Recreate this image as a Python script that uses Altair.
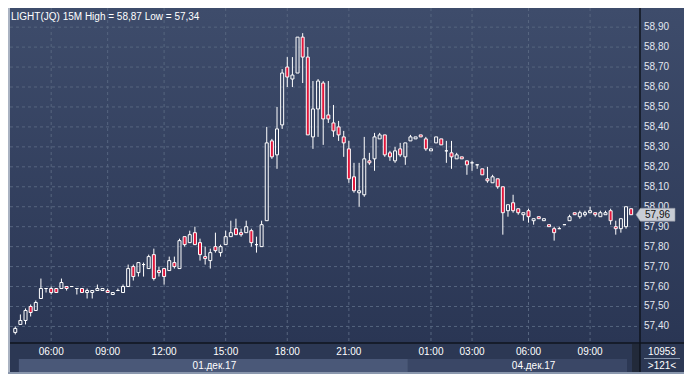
import altair as alt
import pandas as pd

# ---------------- data ----------------
opens = [
    57.37, 57.41, 57.43, 57.50, 57.48, 57.54, 57.59, 57.59, 57.59, 57.59,
    57.60, 57.60, 57.59, 57.59, 57.57, 57.57, 57.58, 57.58, 57.58, 57.56,
    57.58, 57.57, 57.60, 57.70, 57.67, 57.71, 57.69, 57.76, 57.68, 57.69,
    57.68, 57.72, 57.69, 57.85, 57.82, 57.87, 57.82, 57.75, 57.73, 57.80,
    57.77, 57.81, 57.85, 57.89, 57.87, 57.87, 57.88, 57.81, 57.80, 57.93,
    58.33, 58.26, 58.41, 58.70, 58.64, 58.67, 58.85, 58.75, 58.35, 58.49,
    58.62, 58.46, 58.42, 58.40, 58.35, 58.29, 58.15, 58.07, 58.06, 58.23,
    58.24, 58.34, 58.36, 58.27, 58.23, 58.29, 58.25, 58.33, 58.34, 58.36,
    58.34, 58.28, 58.32, 58.34, 58.28, 58.27, 58.24, 58.25, 58.23, 58.22,
    58.21, 58.19, 58.14, 58.12, 58.14, 58.10, 57.98, 58.02, 57.99, 57.96,
    57.98, 57.93, 57.95, 57.93, 57.91, 57.89, 57.89, 57.91, 57.93, 57.97,
    57.95, 57.96, 57.97, 57.97, 57.95, 57.96, 57.98, 57.90, 57.89, 57.90,
    57.99,
]
highs = [
    57.40, 57.46, 57.49, 57.51, 57.53, 57.64, 57.59, 57.60, 57.59, 57.64,
    57.60, 57.60, 57.59, 57.59, 57.59, 57.58, 57.61, 57.59, 57.59, 57.57,
    57.59, 57.61, 57.71, 57.71, 57.72, 57.72, 57.76, 57.79, 57.70, 57.69,
    57.75, 57.75, 57.84, 57.85, 57.88, 57.90, 57.84, 57.80, 57.79, 57.87,
    57.81, 57.88, 57.93, 57.94, 57.89, 57.93, 57.89, 57.85, 57.93, 58.40,
    58.34, 58.50, 58.69, 58.75, 58.75, 58.85, 58.87, 58.80, 58.63, 58.64,
    58.63, 58.63, 58.51, 58.43, 58.38, 58.33, 58.22, 58.22, 58.35, 58.27,
    58.37, 58.37, 58.36, 58.28, 58.30, 58.32, 58.32, 58.36, 58.35, 58.36,
    58.35, 58.29, 58.35, 58.34, 58.33, 58.33, 58.27, 58.25, 58.23, 58.23,
    58.21, 58.19, 58.20, 58.16, 58.14, 58.10, 58.01, 58.06, 57.99, 57.97,
    57.99, 57.94, 57.95, 57.94, 57.91, 57.90, 57.90, 57.91, 57.96, 57.97,
    57.98, 57.98, 58.00, 57.97, 57.98, 57.98, 57.99, 57.93, 57.94, 58.00,
    57.99,
]
lows = [
    57.36, 57.41, 57.41, 57.45, 57.48, 57.54, 57.57, 57.56, 57.57, 57.59,
    57.58, 57.60, 57.56, 57.57, 57.54, 57.54, 57.58, 57.58, 57.57, 57.56,
    57.58, 57.57, 57.60, 57.63, 57.65, 57.65, 57.69, 57.63, 57.65, 57.61,
    57.68, 57.69, 57.69, 57.80, 57.82, 57.81, 57.73, 57.71, 57.69, 57.77,
    57.75, 57.81, 57.85, 57.86, 57.85, 57.87, 57.80, 57.77, 57.80, 57.93,
    58.24, 58.19, 58.39, 58.60, 58.60, 58.67, 58.62, 58.36, 58.29, 58.35,
    58.31, 58.42, 58.35, 58.33, 58.25, 58.12, 58.07, 58.00, 58.05, 58.21,
    58.18, 58.34, 58.25, 58.23, 58.22, 58.25, 58.21, 58.33, 58.34, 58.35,
    58.28, 58.28, 58.32, 58.31, 58.22, 58.19, 58.24, 58.24, 58.16, 58.18,
    58.19, 58.16, 58.12, 58.12, 58.09, 57.86, 57.95, 57.97, 57.96, 57.93,
    57.92, 57.91, 57.94, 57.93, 57.90, 57.83, 57.89, 57.91, 57.93, 57.96,
    57.94, 57.95, 57.97, 57.95, 57.95, 57.96, 57.91, 57.86, 57.87, 57.89,
    57.96,
]
closes = [
    57.39, 57.43, 57.48, 57.47, 57.52, 57.59, 57.59, 57.57, 57.57, 57.62,
    57.59, 57.60, 57.59, 57.57, 57.58, 57.58, 57.59, 57.59, 57.57, 57.57,
    57.58, 57.60, 57.69, 57.65, 57.72, 57.71, 57.75, 57.64, 57.67, 57.65,
    57.73, 57.70, 57.83, 57.81, 57.86, 57.81, 57.76, 57.74, 57.77, 57.78,
    57.80, 57.85, 57.87, 57.86, 57.86, 57.90, 57.82, 57.81, 57.91, 58.32,
    58.25, 58.39, 58.67, 58.65, 58.66, 58.85, 58.75, 58.36, 58.49, 58.63,
    58.44, 58.44, 58.38, 58.36, 58.32, 58.14, 58.08, 58.08, 58.24, 58.22,
    58.35, 58.36, 58.26, 58.25, 58.28, 58.26, 58.32, 58.35, 58.35, 58.35,
    58.29, 58.29, 58.35, 58.31, 58.28, 58.25, 58.26, 58.24, 58.21, 58.22,
    58.21, 58.16, 58.13, 58.15, 58.10, 57.97, 58.01, 57.98, 57.97, 57.97,
    57.95, 57.94, 57.94, 57.94, 57.90, 57.87, 57.89, 57.91, 57.95, 57.96,
    57.97, 57.97, 57.98, 57.96, 57.97, 57.97, 57.93, 57.89, 57.94, 58.00,
    57.96,
]

time_tick_index = [7, 18, 29, 41, 53, 65, 81, 89, 100, 112]
time_tick_labels = ["06:00", "09:00", "12:00", "15:00", "18:00", "21:00",
                    "01:00", "03:00", "06:00", "09:00"]

price_ticks = [57.40, 57.50, 57.60, 57.70, 57.80, 57.90, 58.00, 58.10,
               58.20, 58.30, 58.40, 58.50, 58.60, 58.70, 58.80, 58.90]
price_tick_labels = ["57,40", "57,50", "57,60", "57,70", "57,80", "57,90", "58,00", "58,10",
                     "58,20", "58,30", "58,40", "58,50", "58,60", "58,70", "58,80", "58,90"]

day_names = ["01.дек.17", "04.дек.17"]
day_start = [0.7, 76.5]
day_end = [76.5, 119.2]
day_label_at = [38.8, 101.0]
day_shades = ["#4a5878", "#3a4766"]

title_text = "LIGHT(JQ) 15M  High = 58,87  Low = 57,34"
volume_text = "10953"
bar_count_text = ">" + str(len(closes)) + "<"
last_price = closes[-1]
last_label = f"{last_price:.2f}".replace(".", ",")

# ---------------- layout / style ----------------
W, H = 630, 335
PAD_L, PAD_R, PAD_B = 2, 44, 31
FONT = "Liberation Sans"
RED = "#e2163b"
GRID = "#56657f"

xs = alt.Scale(domain=[-0.05, 120.75], nice=False, zero=False)
ys = alt.Scale(domain=[57.317, 58.996], nice=False, zero=False)

candles = pd.DataFrame({"i": list(range(len(opens))), "open": opens, "high": highs,
                        "low": lows, "close": closes})
ticks_df = pd.DataFrame({"i": time_tick_index, "label": time_tick_labels})
price_df = pd.DataFrame({"p": price_ticks, "label": price_tick_labels})
days_df = pd.DataFrame({"s": day_start, "e": day_end, "m": day_label_at,
                        "name": day_names, "shade": day_shades})
last_df = pd.DataFrame({"p": [last_price], "label": [last_label]})
one = pd.DataFrame({"k": [0]})

bg = alt.Chart(one).mark_rect(
    color=alt.LinearGradient(
        gradient="linear",
        stops=[alt.GradientStop(color="#3e4c6b", offset=0),
               alt.GradientStop(color="#2a3654", offset=1)],
        x1=0, x2=0, y1=0, y2=1)
).encode(x=alt.value(-PAD_L), x2=alt.value(W + PAD_R), y=alt.value(0), y2=alt.value(H))

hgrid = alt.Chart(price_df).mark_rule(color=GRID, strokeDash=[3, 3], strokeWidth=1).encode(
    y=alt.Y("p:Q", scale=ys, axis=None), x=alt.value(0), x2=alt.value(W))

vgrid = alt.Chart(ticks_df).mark_rule(color=GRID, strokeDash=[3, 3], strokeWidth=1).encode(
    x=alt.X("i:Q", scale=xs, axis=None), y=alt.value(0), y2=alt.value(H))

base = alt.Chart(candles).transform_calculate(
    top="max(datum.open, datum.close)", bot="min(datum.open, datum.close)")

xenc = alt.X("i:Q", scale=xs, axis=None)

upper = base.mark_rule(color="white", strokeWidth=1, clip=True).encode(
    x=xenc, y=alt.Y("high:Q", scale=ys, axis=None), y2="top:Q")
lower = base.mark_rule(color="white", strokeWidth=1, clip=True).encode(
    x=xenc, y=alt.Y("bot:Q", scale=ys, axis=None), y2="low:Q")
body = base.mark_bar(size=3, stroke="white", strokeWidth=1, clip=True).encode(
    x=xenc, y=alt.Y("open:Q", scale=ys, axis=None), y2="close:Q",
    fill=alt.condition("datum.close < datum.open", alt.value(RED), alt.value("transparent")))

title = alt.Chart(one).mark_text(text=title_text, align="left", baseline="middle",
                                 color="white", fontSize=10, font=FONT).encode(
    x=alt.value(1), y=alt.value(9))

strip = alt.Chart(one).mark_rect(color="#2c3854").encode(
    x=alt.value(-PAD_L), x2=alt.value(W + PAD_R), y=alt.value(H), y2=alt.value(H + PAD_B))

bands = alt.Chart(days_df).mark_rect().encode(
    x=alt.X("s:Q", scale=xs, axis=None), x2="e:Q",
    y=alt.value(H + 16), y2=alt.value(H + 29),
    color=alt.Color("shade:N", scale=None))

band_labels = alt.Chart(days_df).mark_text(align="center", baseline="middle", color="white",
                                           fontSize=10, font=FONT).encode(
    x=alt.X("m:Q", scale=xs, axis=None), y=alt.value(H + 22.5), text="name:N")

time_labels = alt.Chart(ticks_df).mark_text(align="center", baseline="middle", color="white",
                                            fontSize=10, font=FONT).encode(
    x=alt.X("i:Q", scale=xs, axis=None), y=alt.value(H + 9), text="label:N")

dark_box = alt.Chart(one).mark_rect(color="#222a3a").encode(
    x=alt.value(W - 8), x2=alt.value(W), y=alt.value(H + 1), y2=alt.value(H + 29))

hsep = alt.Chart(one).mark_rule(color="#0f141e", strokeWidth=1.5).encode(
    x=alt.value(-PAD_L), x2=alt.value(W + PAD_R), y=alt.value(H))
vsep = alt.Chart(one).mark_rule(color="#0f141e", strokeWidth=1.5).encode(
    x=alt.value(W), y=alt.value(0), y2=alt.value(H + PAD_B - 2))

left_border = alt.Chart(one).mark_rect(color="#aab3c2").encode(
    x=alt.value(-PAD_L), x2=alt.value(0), y=alt.value(0), y2=alt.value(H + PAD_B))
bottom_border = alt.Chart(one).mark_rect(color="#8a97ad").encode(
    x=alt.value(-PAD_L), x2=alt.value(W + PAD_R), y=alt.value(H + PAD_B - 2), y2=alt.value(H + PAD_B))

price_labels = alt.Chart(price_df).mark_text(align="left", baseline="middle", color="#e2e7f0",
                                             fontSize=10, font=FONT).encode(
    y=alt.Y("p:Q", scale=ys, axis=None), x=alt.value(W + 4), text="label:N")

tag = alt.Chart(last_df).mark_point(
    shape="M -1 0 L -0.78 -0.33 L 1 -0.33 L 1 0.33 L -0.78 0.33 Z",
    size=1521, filled=True, fill="#c9cdd5", stroke="#8d94a0", strokeWidth=0.6, opacity=1).encode(
    y=alt.Y("p:Q", scale=ys, axis=None), x=alt.value(W + 15.5))
tag_text = alt.Chart(last_df).mark_text(align="left", baseline="middle", color="#111111",
                                        fontSize=10, font=FONT).encode(
    y=alt.Y("p:Q", scale=ys, axis=None), x=alt.value(W + 5), text="label:N")

br_line = alt.Chart(one).mark_rule(color="#8896ad", strokeWidth=1).encode(
    x=alt.value(W + 4), x2=alt.value(W + 40), y=alt.value(H + 15.5))
br_vol = alt.Chart(one).mark_text(text=volume_text, align="center", baseline="middle",
                                  color="white", fontSize=10, font=FONT).encode(
    x=alt.value(W + 22), y=alt.value(H + 8.5))
br_cnt = alt.Chart(one).mark_text(text=bar_count_text, align="center", baseline="middle",
                                  color="white", fontSize=10, font=FONT).encode(
    x=alt.value(W + 22), y=alt.value(H + 23))

chart = alt.layer(
    bg, hgrid, vgrid, upper, lower, body, title,
    strip, bands, band_labels, time_labels, dark_box,
    hsep, vsep, left_border, bottom_border,
    price_labels, tag, tag_text, br_line, br_vol, br_cnt,
).properties(
    width=W, height=H,
    padding={"left": PAD_L, "top": 0, "right": PAD_R, "bottom": PAD_B},
    autosize=alt.AutoSizeParams(type="none"),
    background="#2c3854",
).configure_view(strokeWidth=0)

chart.save("out.html", embed_options={"renderer": "svg", "actions": False})
